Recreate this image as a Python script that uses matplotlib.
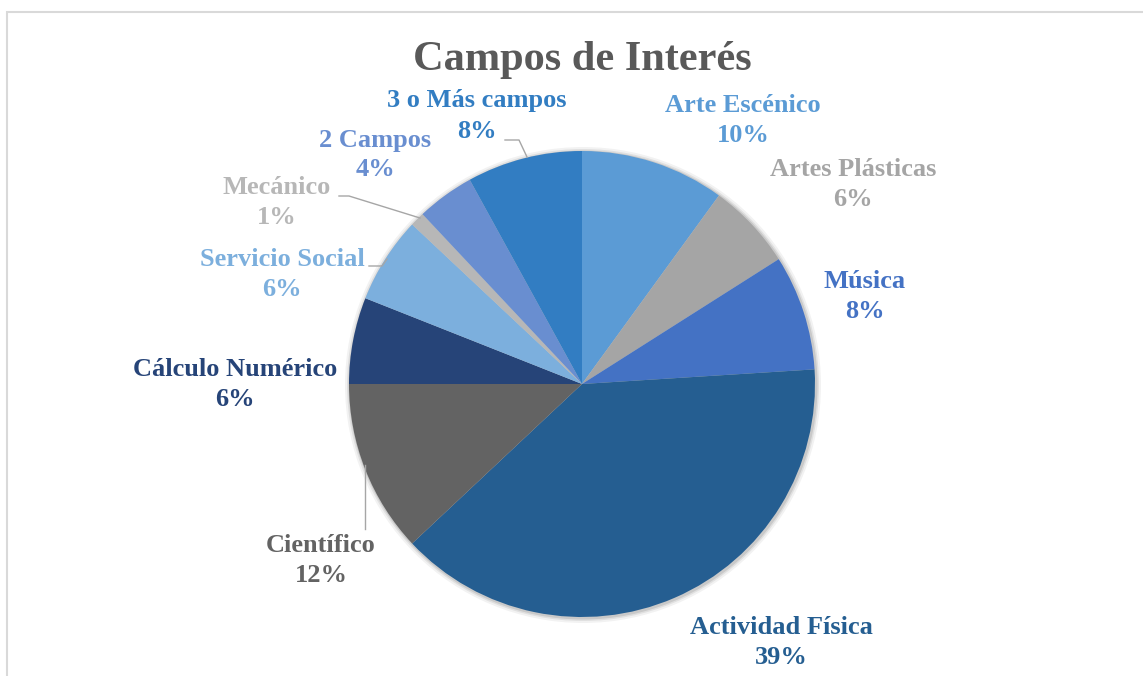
import matplotlib.pyplot as plt
from matplotlib.patches import Rectangle, Circle

plt.rcParams['font.family'] = ['Liberation Serif', 'DejaVu Serif']

# Slices in clockwise order starting at 12 o'clock
categories = ["Arte Escénico", "Artes Plásticas", "Música", "Actividad Física",
              "Científico", "Cálculo Numérico", "Servicio Social", "Mecánico",
              "2 Campos", "3 o Más campos"]
shares = [10, 6, 8, 39, 12, 6, 6, 1, 4, 8]
colors = ["#5B9BD5", "#A5A5A5", "#4472C4", "#255E91", "#636363",
          "#264478", "#7CAFDD", "#B7B7B7", "#698ED0", "#327DC2"]

W, H = 1143, 676
fig = plt.figure(figsize=(W / 100, H / 100), dpi=100)
ax = fig.add_axes([0, 0, 1, 1])

# light grey chart frame (right/bottom edges fall outside the picture)
fig.patches.append(Rectangle((6.5 / W, -0.05), 1.2, (H - 11.5) / H + 0.05,
                             transform=fig.transFigure, fill=False,
                             edgecolor="#D9D9D9", linewidth=1.5))

cx, cy, r = 582, H - 384, 233
# faint soft shadow around the pie
for k, a in [(5, 0.05), (3, 0.07), (1.5, 0.1)]:
    ax.add_patch(Circle((cx + 1, cy - 1), r + k, color="#000000", alpha=a,
                        linewidth=0, zorder=0))
ax.pie(shares, colors=colors, startangle=90, counterclock=False,
       center=(cx, cy), radius=r, frame=True,
       wedgeprops=dict(linewidth=0, zorder=1))
ax.set_xlim(0, W)
ax.set_ylim(0, H)
ax.set_aspect("equal")
ax.axis("off")

# label centres in pixel coords (x, y from top); name above, percent below
label_pos = [(743, 120), (853, 185), (865, 297), (781, 643), (321, 561),
             (235, 385), (282, 274), (277, 202), (375, 155), (477, 116)]
for name, val, col, (px, py) in zip(categories, shares, colors, label_pos):
    ax.text(px, H - py + 15, name, color=col, fontsize=19,
            fontweight="bold", ha="center", va="center")
    ax.text(px, H - py - 15, f"{val}%", color=col, fontsize=19,
            fontweight="bold", ha="center", va="center")

# leader lines
lc = "#A6A6A6"
leaders = [
    [(505, 140), (519, 140), (527, 157)],
    [(339, 196), (349, 196), (420, 218)],
    [(369, 266), (382, 266), (387, 259)],
    [(365, 529), (365, 465)],
]
for pts in leaders:
    xs = [p[0] for p in pts]
    ys = [H - p[1] for p in pts]
    ax.plot(xs, ys, color=lc, linewidth=1)

ax.text(582, H - 60, "Campos de Interés", color="#595959", fontsize=30.5,
        fontweight="bold", ha="center", va="center")

fig.savefig("out.png", dpi=100)
